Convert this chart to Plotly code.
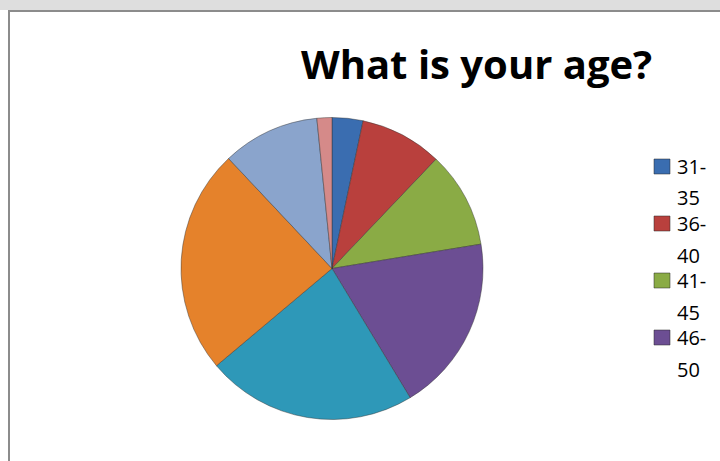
import plotly.graph_objects as go

# Data
categories = ["31-35", "36-40", "41-45", "46-50", "51-55", "56-60", "61-65", "66-70"]
values = [3.3, 8.8, 10.3, 18.9, 22.5, 24.1, 10.4, 1.6]
colors = ["#3A6DB0", "#B9403D", "#8AAB45", "#6C4E93", "#2E98B8", "#E5822B", "#8AA4CC", "#D58A89"]
legend_shown = 4  # only the first four fit in the legend box
title_text = "What is your age?"

W, H = 720, 461

def py(px):
    return 1 - px / H

def pxx(px):
    return px / W

fig = go.Figure()
fig.add_trace(go.Pie(
    labels=categories,
    values=values,
    sort=False,
    direction="clockwise",
    rotation=0,
    textinfo="none",
    marker=dict(colors=colors, line=dict(color="rgba(50,50,50,0.45)", width=1)),
    domain=dict(x=[pxx(181), pxx(483)], y=[py(420), py(117)]),
    showlegend=False,
))

shapes = [
    # gray band at top
    dict(type="rect", xref="paper", yref="paper", x0=0, x1=1, y0=py(10), y1=1,
         fillcolor="#DEDEDE", line=dict(width=0), layer="below"),
    # frame border
    dict(type="line", xref="paper", yref="paper", x0=pxx(8), x1=1, y0=py(11), y1=py(11),
         line=dict(color="#8C8C8C", width=2)),
    dict(type="line", xref="paper", yref="paper", x0=pxx(9), x1=pxx(9), y0=py(10), y1=0,
         line=dict(color="#8C8C8C", width=2)),
]

annotations = [
    dict(text="<b>" + title_text + "</b>", xref="paper", yref="paper",
         x=pxx(476), y=py(63), xanchor="center", yanchor="middle", showarrow=False,
         font=dict(family="Open Sans", size=40, color="#000000")),
]

# legend (manual, to match the two-line wrapped entries)
for i in range(legend_shown):
    top = 159 + i * 57
    shapes.append(dict(type="rect", xref="paper", yref="paper",
                       x0=pxx(654), x1=pxx(670), y0=py(top + 15), y1=py(top),
                       fillcolor=colors[i], line=dict(color="rgba(40,40,40,0.5)", width=1)))
    a, b = categories[i].split("-")
    for j, part in enumerate([a + "-", b]):
        annotations.append(dict(text=part, xref="paper", yref="paper",
                                x=pxx(675), y=py(top + 7 + j * 32), xanchor="left", yanchor="middle",
                                showarrow=False,
                                font=dict(family="Open Sans", size=20, color="#000000")))

fig.update_layout(
    width=W, height=H,
    margin=dict(l=0, r=0, t=0, b=0),
    paper_bgcolor="white",
    plot_bgcolor="white",
    shapes=shapes,
    annotations=annotations,
)

fig.write_html("out.html")
